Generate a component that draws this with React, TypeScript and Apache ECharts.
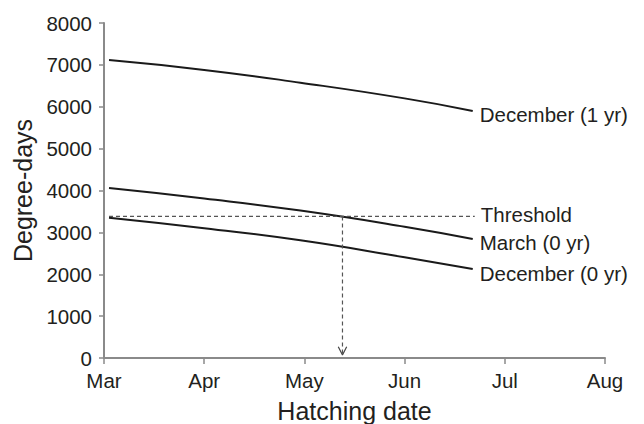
import React, { useEffect, useRef } from "react";
import * as echarts from "echarts";

const monthLabels = ["Mar", "Apr", "May", "Jun", "Jul", "Aug"];
const monthPos = [0.05, 1, 1.96, 3, 3.68];
const dec1yr = [7115, 6880, 6575, 6200, 5900];
const mar0yr = [4060, 3810, 3520, 3135, 2842];
const dec0yr = [3350, 3100, 2811, 2405, 2125];
const thresholdValue = 3380;
const thresholdRange = [0.05, 3.7];
const crossMonth = 2.38;
const arrowTip = 70;
const arrowTop = 270;
const arrowHalf = 0.042;

const FONT = "'Liberation Sans', Arial, Helvetica, sans-serif";
const TXT = "#231f20";

export default function App() {
  const ref = useRef<HTMLDivElement>(null);
  useEffect(() => {
    if (!ref.current) return;
    const chart = echarts.init(ref.current, undefined, { renderer: "svg" });
    const mk = (vals: number[]) => monthPos.map((m, i) => [m, vals[i]]);
    const curve = (name: string, vals: number[]) => ({
      type: "line",
      name,
      data: mk(vals),
      smooth: true,
      symbol: "none",
      lineStyle: { color: "#1a1a1a", width: 2 },
      endLabel: {
        show: true,
        formatter: name,
        color: TXT,
        fontSize: 20.5,
        fontFamily: FONT,
        distance: 7,
        offset: [0, 4],
      },
    });
    chart.setOption({
      animation: false,
      grid: { left: 104, right: 39, top: 23, bottom: 66, containLabel: false, outerBoundsMode: "none" },
      xAxis: {
        type: "value",
        min: 0,
        max: 5,
        interval: 1,
        name: "Hatching date",
        nameLocation: "middle",
        nameGap: 40,
        nameTextStyle: { color: TXT, fontSize: 25, fontFamily: FONT },
        axisLine: { show: true, onZero: false, lineStyle: { color: "#8a8a8a", width: 2 } },
        axisTick: { show: true, length: 6, lineStyle: { color: "#8a8a8a", width: 1.5 } },
        axisLabel: {
          color: TXT,
          fontSize: 20.5,
          fontFamily: FONT,
          margin: 12,
          formatter: (v: number) => monthLabels[Math.round(v)] ?? "",
        },
        splitLine: { show: false },
      },
      yAxis: {
        type: "value",
        min: 0,
        max: 8000,
        interval: 1000,
        name: "Degree-days",
        nameLocation: "middle",
        nameGap: 66,
        nameTextStyle: { color: TXT, fontSize: 25, fontFamily: FONT },
        axisLine: { show: true, lineStyle: { color: "#8a8a8a", width: 2 } },
        axisTick: { show: true, length: 5, lineStyle: { color: "#8a8a8a", width: 1.5 } },
        axisLabel: {
          color: TXT,
          fontSize: 20.5,
          fontFamily: FONT,
          margin: 12,
          formatter: (v: number) => String(v),
        },
        splitLine: { show: false },
      },
      series: [
        curve("December (1 yr)", dec1yr),
        curve("March (0 yr)", mar0yr),
        curve("December (0 yr)", dec0yr),
        {
          type: "line",
          name: "Threshold",
          data: thresholdRange.map((m) => [m, thresholdValue]),
          symbol: "none",
          lineStyle: { color: "#555", width: 1.2, type: [4, 3] },
          endLabel: {
            show: true,
            formatter: "Threshold",
            color: TXT,
            fontSize: 20.5,
            fontFamily: FONT,
            distance: 6,
            offset: [0, -2],
          },
        },
        {
          type: "line",
          name: "drop",
          data: [
            [crossMonth, thresholdValue],
            [crossMonth, arrowTip],
          ],
          symbol: "none",
          lineStyle: { color: "#555", width: 1.2, type: [4, 3] },
        },
        {
          type: "line",
          name: "arrow",
          data: [
            [crossMonth - arrowHalf, arrowTop],
            [crossMonth, arrowTip],
            [crossMonth + arrowHalf, arrowTop],
          ],
          symbol: "none",
          lineStyle: { color: "#444", width: 1.2 },
        },
      ],
    });
    return () => chart.dispose();
  }, []);
  return (
    <div
      ref={ref}
      style={{ position: "fixed", left: 0, top: 0, width: 644, height: 424, background: "#fff" }}
    />
  );
}
